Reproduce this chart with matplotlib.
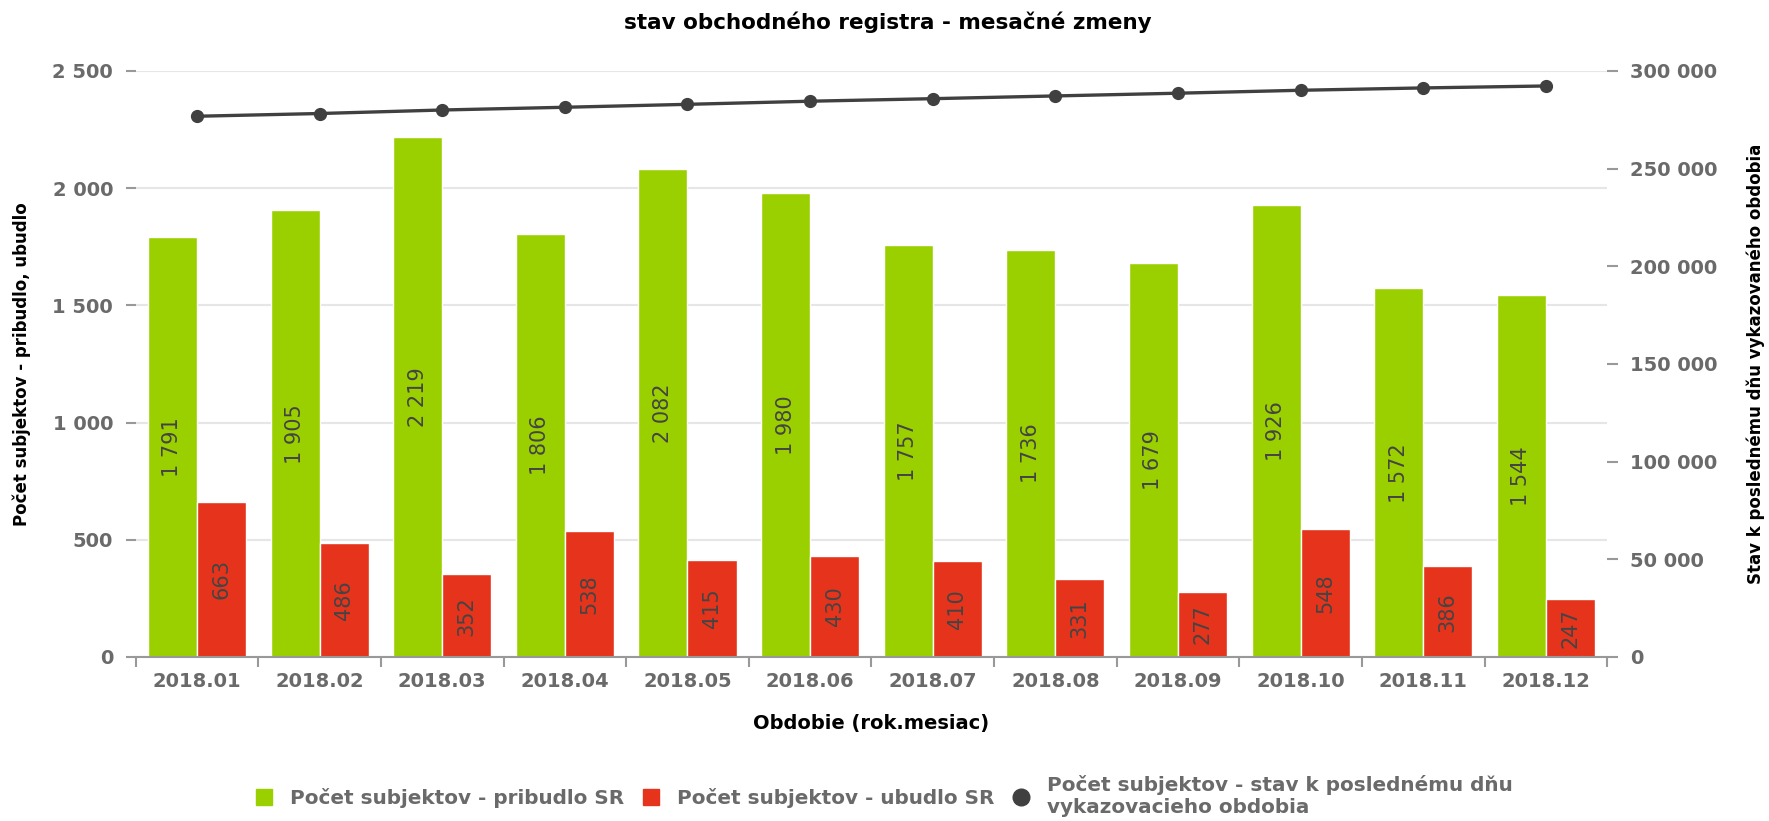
import matplotlib
matplotlib.use('Agg')
import matplotlib.pyplot as plt
from matplotlib.lines import Line2D
from matplotlib.ticker import FuncFormatter, MultipleLocator
import numpy as np

obdobie = ['2018.01', '2018.02', '2018.03', '2018.04', '2018.05', '2018.06',
           '2018.07', '2018.08', '2018.09', '2018.10', '2018.11', '2018.12']
pribudlo = [1791, 1905, 2219, 1806, 2082, 1980, 1757, 1736, 1679, 1926, 1572, 1544]
ubudlo = [663, 486, 352, 538, 415, 430, 410, 331, 277, 548, 386, 247]
# stav odcitany z grafu (priblizne)
stav = [276800, 278200, 280000, 281400, 282900, 284500,
        285800, 287200, 288600, 290100, 291300, 292300]

green = '#9bd000'
red = '#e5341b'
dark = '#404040'
gray_txt = '#6a6a6a'
gray_ax = '#999999'

plt.rcParams['font.family'] = ['DejaVu Sans']


def medzera(v, pos=None):
    return f'{int(v):,}'.replace(',', ' ')


fig = plt.figure(figsize=(17.69, 8.21), dpi=100)
ax = fig.add_axes([0.0767, 0.1998, 0.8318, 0.7138])
ax2 = ax.twinx()

x = np.arange(len(obdobie))
w = 0.4
ax.bar(x - w / 2, pribudlo, w, color=green, edgecolor='white', linewidth=1, zorder=2)
ax.bar(x + w / 2, ubudlo, w, color=red, edgecolor='white', linewidth=1, zorder=2)

for i in range(len(x)):
    ax.text(x[i] - w / 2, pribudlo[i] / 2, medzera(pribudlo[i]), rotation=90,
            ha='center', va='center', fontsize=15, color='#444444', zorder=3)
    ax.text(x[i] + w / 2, ubudlo[i] / 2, medzera(ubudlo[i]), rotation=90,
            ha='center', va='center', fontsize=15, color='#444444', zorder=3)

ax2.plot(x, stav, color=dark, lw=2.4, marker='o', markersize=8.5, zorder=4)

ax.set_xlim(-0.5, len(x) - 0.5)
ax.set_ylim(0, 2500)
ax2.set_ylim(0, 300000)

ax.yaxis.set_major_locator(MultipleLocator(500))
ax.yaxis.set_major_formatter(FuncFormatter(medzera))
ax2.yaxis.set_major_locator(MultipleLocator(50000))
ax2.yaxis.set_major_formatter(FuncFormatter(medzera))

ax.set_xticks(x)
ax.set_xticklabels(obdobie)
ax.set_xticks(np.arange(-0.5, len(x), 1), minor=True)
ax.tick_params(axis='x', which='major', length=0, pad=11, labelsize=14, labelcolor=gray_txt)
ax.tick_params(axis='x', which='minor', length=7.5, width=1.5, color=gray_ax)
ax.tick_params(axis='y', length=7.2, width=1.5, color=gray_ax, pad=9,
               labelsize=14, labelcolor=gray_txt)
ax2.tick_params(axis='y', length=8, width=1.5, color=gray_ax, pad=8.6,
                labelsize=14, labelcolor=gray_txt)
for t in ax.get_xticklabels() + ax.get_yticklabels() + ax2.get_yticklabels():
    t.set_fontweight('bold')

ax.grid(axis='y', color='#e6e6e6', lw=1.5, zorder=0)
ax.set_axisbelow(True)
for s in ['left', 'top', 'right']:
    ax.spines[s].set_visible(False)
for s in ax2.spines.values():
    s.set_visible(False)
ax.spines['bottom'].set_color(gray_ax)
ax.spines['bottom'].set_linewidth(1.5)

fig.text(0.502, 1 - 22.5 / 821, 'stav obchodného registra - mesačné zmeny', ha='center',
         va='center', fontsize=15.5, fontweight='bold')
fig.text(871 / 1769, 1 - 723 / 821, 'Obdobie (rok.mesiac)', ha='center', va='center',
         fontsize=14, fontweight='bold')
fig.text(22 / 1769, 1 - 364 / 821, 'Počet subjektov - pribudlo, ubudlo', rotation=90,
         ha='center', va='center', fontsize=12, fontweight='bold')
fig.text(1756 / 1769, 1 - 364 / 821, 'Stav k poslednému dňu vykazovaného obdobia',
         rotation=90, ha='center', va='center', fontsize=12, fontweight='bold')

handles = [
    Line2D([], [], marker='s', ls='none', markersize=12, color=green),
    Line2D([], [], marker='s', ls='none', markersize=12, color=red),
    Line2D([], [], marker='o', ls='none', markersize=12, color=dark),
]
labels = ['Počet subjektov - pribudlo SR', 'Počet subjektov - ubudlo SR',
          'Počet subjektov - stav k poslednému dňu\nvykazovacieho obdobia']
leg = fig.legend(handles, labels, loc='center', bbox_to_anchor=(0.5, 1 - 796 / 821), ncol=3,
                 frameon=False, prop={'size': 14.4, 'weight': 'bold'}, handlelength=0.8,
                 handletextpad=0.9, columnspacing=0.95)
for t in leg.get_texts():
    t.set_color(gray_txt)
    t.set_linespacing(1.15)

fig.savefig('out.png', dpi=100)
